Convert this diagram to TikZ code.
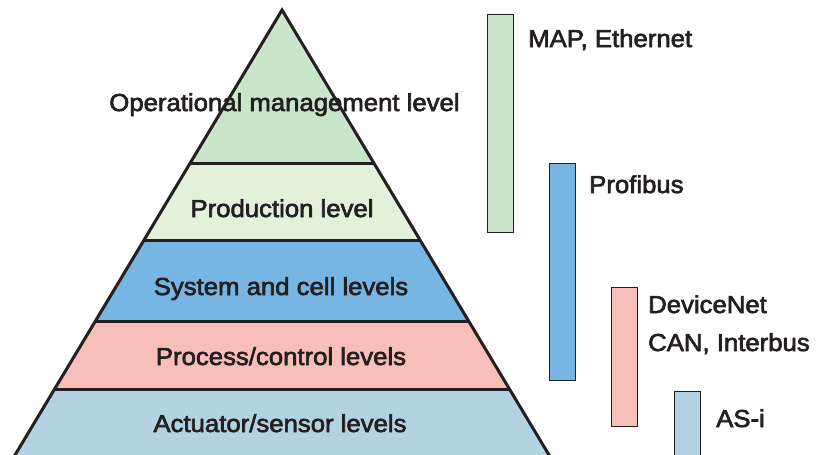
\documentclass[tikz,border=0pt]{standalone}
\usepackage{fontspec}
\setmainfont{Liberation Sans}
\newfontfamily\levelfont{Liberation Sans}[FakeBold=2.6, FakeStretch=1.05]
\usetikzlibrary{positioning}

\definecolor{inkdark}{HTML}{231F20}
\definecolor{opgreen}{HTML}{C9E5CA}
\definecolor{prodgreen}{HTML}{E3F0DA}
\definecolor{sysblue}{HTML}{77B5E3}
\definecolor{procpink}{HTML}{F8BEB9}
\definecolor{actblue}{HTML}{B3D3E3}

\tikzset{
  levellabel/.style={text=inkdark, inner sep=0pt, anchor=base, font=\levelfont\fontsize{24.5}{28}\selectfont},
  buslabel/.style={levellabel, anchor=base west},
  busbar/.style={draw=inkdark, line width=1.3pt, inner sep=0pt, anchor=north west},
  pyline/.style={draw=inkdark, line width=3pt},
}

\begin{document}
\begin{tikzpicture}[x=1pt, y=-1pt]
        \useasboundingbox (0,0) rectangle (820,455);
        \clip (0,0) rectangle (820,455);

        % Pyramid bands
        \fill[opgreen] (282,10) -- (373.8,163) -- (190.2,163) -- cycle;
        \fill[prodgreen] (190.2,163) -- (373.8,163) -- (420,240) -- (144,240) -- cycle;
        \fill[sysblue] (144,240) -- (420,240) -- (468.6,321) -- (95.4,321) -- cycle;
        \fill[procpink] (95.4,321) -- (468.6,321) -- (509.4,389) -- (54.6,389) -- cycle;
        \fill[actblue] (54.6,389) -- (509.4,389) -- (552,460) -- (12,460) -- cycle;

        % Pyramid outline and level lines
        \draw[pyline] (12,460) -- (282,10) -- (552,460);
        \draw[pyline] (190.2,163) -- (373.8,163);
        \draw[pyline] (144,240) -- (420,240);
        \draw[pyline] (95.4,321) -- (468.6,321);
        \draw[pyline] (54.6,389) -- (509.4,389);

        % Level names
        \node[levellabel] (opname) at (284.5,111) {Operational management level};
        \node[levellabel] (prodname) at (282,217) {Production level};
        \node[levellabel] (sysname) at (281,295) {System and cell levels};
        \node[levellabel] (procname) at (281,365) {Process/control levels};
        \node[levellabel] (actname) at (280,432) {Actuator/sensor levels};

        % Bus systems
        \node[busbar, fill=opgreen, minimum width=26, minimum height=218] (mapbar) at (487,14) {};
        \node[busbar, fill=sysblue, minimum width=26, minimum height=217] (profibar) at (548.5,163) {};
        \node[busbar, fill=procpink, minimum width=26, minimum height=139] (canbar) at (611,287) {};
        \node[busbar, fill=actblue, minimum width=26, minimum height=79] (asibar) at (674,391) {};

        \node[buslabel] (maplabel) at (528,47) {MAP, Ethernet};
        \node[buslabel] (profilabel) at (589,193) {Profibus};
        \node[buslabel] (devlabel) at (648,313) {DeviceNet};
        \node[buslabel] (canlabel) at (648,351) {CAN, Interbus};
        \node[buslabel] (asilabel) at (716,427) {AS-i};
    \end{tikzpicture}
\end{document}
